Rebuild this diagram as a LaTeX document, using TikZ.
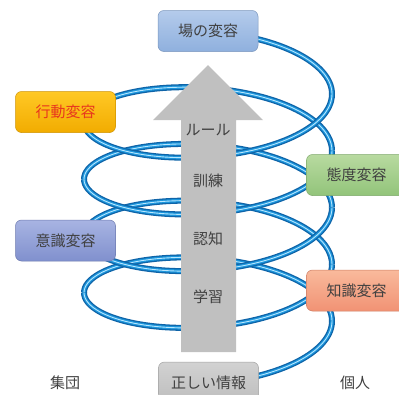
\documentclass[tikz,border=0pt]{standalone}
\usepackage{fontspec}
\setmainfont{Noto Sans CJK JP}
\definecolor{ribdark}{HTML}{0F64A8}
\definecolor{ribmid}{HTML}{1C96DC}
\definecolor{riblight}{HTML}{B8E6FF}
\definecolor{txt}{HTML}{404040}
\definecolor{arrowgray}{HTML}{C0C0C0}
\definecolor{baT}{HTML}{B4CBEB}\definecolor{baB}{HTML}{8FB0DE}
\definecolor{koT}{HTML}{FFC825}\definecolor{koB}{HTML}{F2AC00}
\definecolor{koTxt}{HTML}{E8361E}
\definecolor{taT}{HTML}{B8DAA0}\definecolor{taB}{HTML}{92C47A}
\definecolor{isT}{HTML}{A8B4E2}\definecolor{isB}{HTML}{8090CE}
\definecolor{chT}{HTML}{F9BA9C}\definecolor{chB}{HTML}{F19274}
\definecolor{joT}{HTML}{D2D2D2}\definecolor{joB}{HTML}{BDBDBD}
\tikzset{
  rib/.style={line width=1.3pt, draw=ribdark, double=ribmid, double distance=3.4pt,
    postaction={draw=riblight, line width=0.9pt}},
  lbl/.style={font=\fontsize{15}{15}\selectfont, text=txt, inner sep=0pt},
  box/.style 2 args={rectangle, rounded corners=6pt, minimum width=100pt, minimum height=41pt,
    inner sep=0pt, top color=#1, bottom color=#2, draw=#2!85!black, line width=0.5pt,
    font=\fontsize{15}{15}\selectfont, text=txt}
}
\begin{document}
\begin{tikzpicture}[x=1pt,y=-1pt]
\useasboundingbox (0,0) rectangle (399,394);
\clip (0,0) rectangle (399,394);
% back arcs of the helix
\foreach \a/\b in {0/180, 360/540, 720/900, 1080/1260, 1440/1510}
  \draw[rib] plot[domain=\a:\b, samples=50, smooth, variable=\t]
    ({208+124*cos(\t)},{321-0.1576*\t-48.6*sin(\t)});
% front arcs of the helix
\foreach \a/\b in {-70/0, 180/360, 540/720, 900/1080, 1260/1440}
  \draw[rib] plot[domain=\a:\b, samples=50, smooth, variable=\t]
    ({208+124*cos(\t)},{321-0.1576*\t-48.6*sin(\t)});
% central arrow
\fill[arrowgray] (181,352) -- (236,352) -- (236,120) -- (263,120) -- (208,65)
  -- (153,120) -- (181,120) -- cycle;
\node[lbl] (rule) at (208,130) {ルール};
\node[lbl] (kunren) at (208,181) {訓練};
\node[lbl] (ninchi) at (208,239) {認知};
\node[lbl] (gakushu) at (208,297) {学習};
% boxes
\node[box={baT}{baB}] (ba) at (208,31) {場の変容};
\node[box={koT}{koB}, text=koTxt] (kodo) at (65.5,112) {行動変容};
\node[box={taT}{taB}] (taido) at (356.5,175) {態度変容};
\node[box={isT}{isB}] (ishiki) at (65.5,240.5) {意識変容};
\node[box={chT}{chB}] (chishiki) at (356.5,290.5) {知識変容};
\node[box={joT}{joB}] (joho) at (208.5,382.5) {正しい情報};
\node[lbl] (shudan) at (65,383) {集団};
\node[lbl] (kojin) at (355,383) {個人};
\end{tikzpicture}
\end{document}
